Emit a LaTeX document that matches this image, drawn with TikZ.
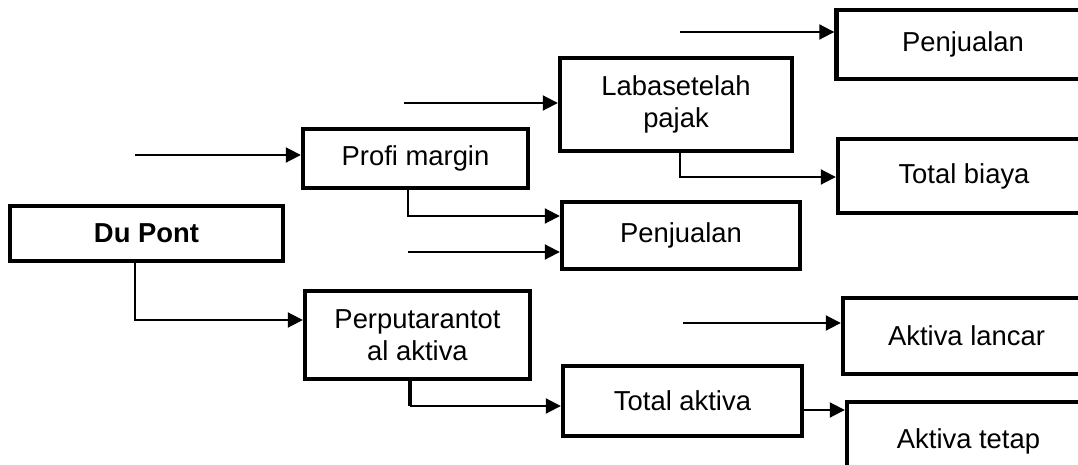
\documentclass[tikz,border=0pt]{standalone}
\usepackage{fontspec}
\setmainfont{Liberation Sans}
\usetikzlibrary{arrows.meta}

\tikzstyle{box}=[draw,rectangle,line width=2.2pt,inner sep=0pt,align=center,font=\fontsize{13.7}{16}\selectfont]
\tikzstyle{link}=[draw,line width=1pt,-{Triangle[length=7.5pt,width=7.5pt]}]

\begin{document}
\begin{tikzpicture}[x=0.5pt,y=-0.5pt]
    \useasboundingbox (0,0) rectangle (1078,465);
    \clip (0,0) rectangle (1078,465);
    \foreach \pos/\name/\w/\h/\txt in {
        {(146.5,233.5)/dupont/273/55/{\textbf{Du Pont}}},
        {(415.5,158.5)/profit/225/59/{Profi margin}},
        {(676,104.5)/laba/232/93/{Labasetelah\\pajak}},
        {(963,44.5)/jualA/253/69/{Penjualan}},
        {(964,176)/biaya/252/74/{Total biaya}},
        {(681,235.5)/jualB/238/67/{Penjualan}},
        {(417.5,335)/putar/225/88/{Perputarantot\\al aktiva}},
        {(682.5,401)/aktiva/239/70/{Total aktiva}},
        {(966.5,336)/lancar/247/76/{Aktiva lancar}},
        {(968.5,441)/tetap/243/78/{Aktiva tetap}}}
        \node[box,minimum width=\w*0.5pt,minimum height=\h*0.5pt] (\name) at \pos {\txt};
    % free ends and levels
    \coordinate (sProfit) at (135,155);
    \coordinate (sLaba) at (404,103);
    \coordinate (sJualB) at (408,252);
    \coordinate (sJualA) at (680,32);
    \coordinate (sLancar) at (683,323);
    \coordinate (xPutar) at (410,0);
    \coordinate (yPutar) at (0,320);
    \coordinate (yJualB) at (0,216);
    \coordinate (yBiaya) at (0,177);
    \coordinate (yAktiva) at (0,406);
    \coordinate (yTetap) at (0,410);
    \path[link] (sProfit) -- (profit.west |- sProfit);
    \path[link] (dupont.south -| sProfit) |- (putar.west |- yPutar);
    \path[link] (sLaba) -- (laba.west |- sLaba);
    \path[link] (profit.south -| sJualB) |- (jualB.west |- yJualB);
    \path[link] (sJualB) -- (jualB.west |- sJualB);
    \path[link] (sJualA) -- (jualA.west |- sJualA);
    \path[link] (laba.south -| sJualA) |- (biaya.west |- yBiaya);
    \path[link] (sLancar) -- (lancar.west |- sLancar);
    \path[draw,line width=2pt] (putar.south -| xPutar) -- (xPutar |- yAktiva);
    \path[link] (xPutar |- yAktiva) -- (aktiva.west |- yAktiva);
    \path[link] (aktiva.east |- yTetap) -- (tetap.west |- yTetap);
\end{tikzpicture}
\end{document}
